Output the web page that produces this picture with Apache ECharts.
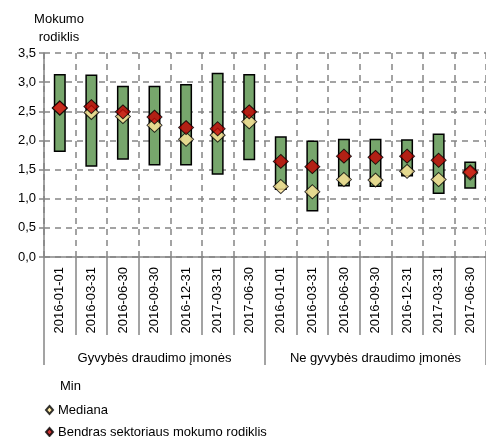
<!DOCTYPE html>
<html><head><meta charset="utf-8">
<script src="https://cdn.jsdelivr.net/npm/echarts@6/dist/echarts.min.js"></script>
<style>html,body{margin:0;padding:0;background:#fff}#c{width:486px;height:437px}</style>
</head><body><div id="c"></div>
<script>
const dates = ['2016-01-01','2016-03-31','2016-06-30','2016-09-30','2016-12-31','2017-03-31','2017-06-30',
               '2016-01-01','2016-03-31','2016-06-30','2016-09-30','2016-12-31','2017-03-31','2017-06-30'];
const groups = ['Gyvybės draudimo įmonės','Ne gyvybės draudimo įmonės'];
const minVals = [1.80,1.55,1.67,1.57,1.57,1.41,1.66, 1.15,0.78,1.21,1.20,1.38,1.08,1.17];
const maxVals = [3.14,3.13,2.94,2.94,2.97,3.16,3.14, 2.07,2.00,2.03,2.03,2.02,2.12,1.64];
const median  = [2.55,2.48,2.41,2.26,2.02,2.09,2.32, 1.21,1.12,1.33,1.32,1.47,1.33,1.44];
const sector  = [2.56,2.58,2.49,2.40,2.22,2.20,2.49, 1.64,1.55,1.73,1.71,1.73,1.66,1.46];
const yTicks = [0,0.5,1,1.5,2,2.5,3,3.5];

const FONT = 'Liberation Sans, Arial, sans-serif';
const GRID = '#858585';
const rangeVals = maxVals.map((v,i)=>+(v-minVals[i]).toFixed(3));
const legendText = {fontFamily:FONT, fontSize:13, color:'#000'};
const chart = echarts.init(document.getElementById('c'), null, {renderer:'canvas'});
chart.setOption({
  animation:false,
  textStyle:{fontFamily:FONT},
  graphic:[{type:'text', x:59, y:10, style:{text:'Mokumo\nrodiklis', align:'center', fontFamily:FONT, fontSize:13, lineHeight:18, fill:'#000'}}],
  grid:{left:44, top:53, width:443, height:204, containLabel:false},
  legend:[
    {left:48, top:379.5, padding:0, itemWidth:7, itemHeight:8, selectedMode:false, textStyle:legendText,
     data:[{name:'Min', icon:'rect', itemStyle:{color:'rgba(0,0,0,0)', borderWidth:0}}]},
    {left:45, top:403.5, padding:0, itemWidth:7, itemHeight:8, selectedMode:false, textStyle:legendText,
     data:[{name:'Mediana', icon:'diamond'}]},
    {left:45, top:425.5, padding:0, itemWidth:7, itemHeight:8, selectedMode:false, textStyle:legendText,
     data:[{name:'Bendras sektoriaus mokumo rodiklis', icon:'diamond'}]}
  ],
  xAxis:[
    {type:'category', data:dates, boundaryGap:true,
     axisLine:{lineStyle:{color:GRID, width:1.5}},
     axisTick:{show:true, interval:0, length:78, lineStyle:{color:GRID, width:1.5}},
     axisLabel:{interval:0, rotate:90, margin:10, fontSize:13, color:'#000', fontFamily:FONT},
     splitLine:{show:true, interval:0, lineStyle:{color:GRID, type:[6,5], width:1.5}}
    },
    {type:'category', data:groups, position:'bottom', boundaryGap:true,
     axisLine:{show:false},
     axisTick:{show:true, interval:0, length:108, lineStyle:{color:GRID, width:1.5}},
     axisLabel:{interval:0, margin:95, fontSize:13, color:'#000', fontFamily:FONT},
     splitLine:{show:false}
    }
  ],
  yAxis:{type:'value', min:0, max:3.5, interval:0.5,
    axisLine:{show:true, lineStyle:{color:GRID, width:1.5}},
    axisTick:{show:true, length:5, lineStyle:{color:GRID, width:1.5}},
    axisLabel:{fontSize:13, color:'#000', margin:8, fontFamily:FONT,
      formatter:v=>{ const t=yTicks.find(x=>Math.abs(x-v)<1e-9); return (t!==undefined?t:v).toFixed(1).replace('.',','); }},
    splitLine:{show:true, lineStyle:{color:GRID, type:[6,5], width:1.5}}
  },
  series:[
    {name:'Min', type:'bar', stack:'r', data:minVals, barWidth:12,
     itemStyle:{color:'rgba(0,0,0,0)'}, emphasis:{disabled:true}, z:2},
    {name:'Max', type:'bar', stack:'r', data:rangeVals, barWidth:12,
     itemStyle:{color:'#77A66C', borderColor:'#000', borderWidth:1.5}, z:2},
    {name:'Mediana', type:'scatter', data:median, symbol:'diamond', symbolSize:[15,14],
     itemStyle:{color:'#FFE699', borderColor:'#000', borderWidth:1}, z:3},
    {name:'Bendras sektoriaus mokumo rodiklis', type:'scatter', data:sector, symbol:'diamond', symbolSize:[15,14],
     itemStyle:{color:'#C00000', borderColor:'#000', borderWidth:1}, z:4}
  ]
});
</script></body></html>
